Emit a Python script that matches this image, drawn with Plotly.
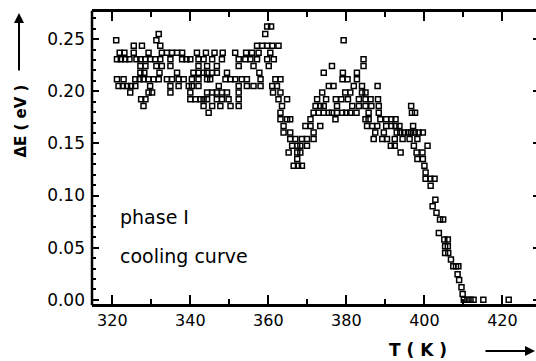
import plotly.graph_objects as go

levels = [0.262, 0.255, 0.249, 0.2436, 0.237, 0.2307, 0.2243, 0.2178, 0.2115, 0.2051,
          0.1987, 0.1923, 0.1859, 0.1795, 0.1732, 0.1668, 0.1604, 0.1541, 0.1477, 0.1413,
          0.1350, 0.1286, 0.1222, 0.1160, 0.1095, 0.0960, 0.0897, 0.0834, 0.0770, 0.0642,
          0.0578, 0.0514, 0.0450, 0.0387, 0.0323, 0.0246, 0.0190, 0.0120, 0.0055, 0.0000]

temps = [
    [359.7, 360.7],
    [331.9, 359.2],
    [321.0, 331.3, 379.3],
    [325.5, 327.6, 332.3, 357.1, 358.4, 359.7, 361.0, 362.6],
    [321.9, 323.1, 325.5, 329.3, 332.7, 334.0, 335.3, 336.6, 337.9, 341.7, 344.0, 346.2, 348.3,
     351.5, 354.3, 355.8, 357.5, 360.5],
    [321.2, 322.2, 323.3, 324.4, 326.2, 327.2, 328.5, 329.7, 331.0, 332.3, 334.9, 337.9, 339.0,
     340.0, 342.1, 343.4, 345.6, 348.1, 352.4, 354.1, 355.4, 357.1, 359.7, 361.4, 384.4],
    [327.2, 328.5, 331.3, 332.7, 334.9, 342.1, 344.3, 346.8, 352.4, 356.2, 360.1, 376.3, 384.4],
    [327.2, 328.2, 332.1, 336.6, 340.8, 342.1, 343.4, 344.3, 345.6, 346.8, 349.4, 357.7, 374.2,
     379.1, 382.7],
    [321.2, 322.9, 325.9, 327.0, 328.0, 329.3, 330.6, 331.9, 334.0, 335.3, 337.0, 338.3, 340.4,
     342.1, 344.3, 345.1, 349.0, 350.3, 351.5, 353.2, 354.5, 358.0, 361.8, 363.1, 379.0, 380.3,
     382.7],
    [321.6, 322.7, 323.8, 324.8, 325.9, 329.7, 334.9, 337.0, 339.6, 340.4, 342.1, 347.3, 352.4,
     354.5, 356.2, 358.0, 361.0, 362.2, 375.5, 376.7, 381.9, 384.0, 388.0],
    [324.6, 329.3, 330.2, 334.9, 340.0, 344.3, 345.6, 346.8, 348.1, 349.4, 352.4, 361.2, 363.1,
     373.8, 379.7, 381.0, 384.0, 384.9],
    [327.4, 328.5, 340.0, 341.3, 342.6, 343.4, 344.3, 346.8, 348.1, 349.8, 352.4, 362.6, 364.8,
     372.5, 374.8, 377.3, 378.7, 380.4, 383.2, 384.9, 386.2, 388.1],
    [328.0, 343.4, 345.6, 347.7, 350.3, 352.4, 363.5, 372.1, 373.3, 374.2, 377.6, 381.5, 383.2,
     384.9, 386.4, 388.3, 396.6],
    [344.7, 363.1, 371.6, 372.9, 374.2, 375.5, 376.3, 377.6, 378.9, 380.0, 381.0, 382.6, 385.7,
     388.3, 396.8, 397.6],
    [363.1, 364.8, 365.6, 370.8, 377.2, 384.9, 385.7, 388.7, 390.2, 391.5, 392.6],
    [363.9, 369.5, 370.8, 373.3, 385.3, 386.6, 387.9, 390.2, 391.5, 392.6, 393.6, 397.1],
    [363.9, 365.6, 371.6, 387.4, 389.6, 392.9, 393.8, 394.8, 395.8, 396.6, 397.5, 398.5, 399.6],
    [365.6, 366.9, 368.6, 369.9, 371.6, 387.0, 389.2, 390.4, 392.4, 394.4, 396.2, 398.2],
    [366.1, 367.4, 368.2, 369.9, 391.4, 392.4, 397.3, 400.8],
    [365.2, 367.4, 368.2, 393.9, 398.0, 399.5],
    [367.4, 398.2, 399.6],
    [366.5, 367.6, 368.6, 400.0],
    [400.3],
    [400.3, 401.5, 402.6],
    [401.6],
    [402.8],
    [402.1],
    [403.1],
    [404.0, 404.8],
    [403.7],
    [405.1, 406.0],
    [405.3, 406.0],
    [405.3, 406.1],
    [406.8],
    [407.4, 408.1, 408.7],
    [408.5],
    [408.9],
    [409.5],
    [409.8],
    [410.1, 411.0, 411.8, 412.6, 415.1, 421.6],
]

x_ticks = [320, 340, 360, 380, 400, 420]
y_ticks = [0.00, 0.05, 0.10, 0.15, 0.20, 0.25]
y_tick_labels = ["0.00", "0.05", "0.10", "0.15", "0.20", "0.25"]

T_K = []
dE_eV = []
for lev, row in zip(levels, temps):
    for t in row:
        T_K.append(t)
        dE_eV.append(lev)

FONT = "DejaVu Sans"
Y_RANGE = [-0.004, 0.276]

fig = go.Figure()
fig.add_trace(go.Scatter(
    x=T_K, y=dE_eV, mode="markers",
    marker=dict(symbol="square-open", size=5, color="black", line=dict(width=1.5, color="black")),
    hoverinfo="skip", showlegend=False,
))
# invisible trace so the right-hand tick axis is drawn
fig.add_trace(go.Scatter(x=[T_K[0]], y=[dE_eV[0]], yaxis="y2", mode="markers",
                         marker=dict(opacity=0), hoverinfo="skip", showlegend=False))

fig.update_layout(
    width=536, height=361,
    margin=dict(l=92, r=0, t=12, b=57),
    paper_bgcolor="white", plot_bgcolor="white",
    font=dict(family=FONT, size=16, color="black"),
    xaxis=dict(
        range=[314.8, 428.6], tickvals=x_ticks, ticks="inside", ticklen=9, tickwidth=2,
        tickcolor="black", minor=dict(dtick=10, tick0=320, ticks="inside", ticklen=5, tickwidth=1.5,
                                     tickcolor="black"),
        showline=True, linewidth=2.5, linecolor="black", mirror="ticks",
        showgrid=False, zeroline=False, tickfont=dict(family=FONT, size=16, color="black"),
    ),
    yaxis=dict(
        range=Y_RANGE, tickvals=y_ticks, ticktext=y_tick_labels, ticks="inside",
        ticklen=7, tickwidth=2, tickcolor="black",
        minor=dict(dtick=0.01, tick0=0, ticks="inside", ticklen=4, tickwidth=1.5, tickcolor="black"),
        showline=False,
        showgrid=False, zeroline=False, tickfont=dict(family=FONT, size=17, color="black"),
        ticklabelstandoff=6,
    ),
    yaxis2=dict(
        range=Y_RANGE, tickvals=y_ticks, overlaying="y", side="right", anchor="x",
        ticks="inside", ticklen=3, tickwidth=2, tickcolor="black", showticklabels=False,
        showline=False, showgrid=False, zeroline=False,
    ),
    shapes=[dict(type="line", xref="paper", yref="paper", x0=0, x1=0, y0=-0.004, y1=1.004,
                 line=dict(color="black", width=2.5))],
)

annotations = [
    dict(text="<b>ΔE ( eV )</b>", xref="paper", yref="paper", x=-0.162, y=0.625,
         textangle=-90, showarrow=False, font=dict(family=FONT, size=15, color="black"),
         xanchor="center", yanchor="middle"),
    dict(text="", xref="paper", yref="paper", x=-0.1644, y=0.9966, ax=0, ay=59,
         showarrow=True, arrowhead=2, arrowsize=1, arrowwidth=2, arrowcolor="black"),
    dict(text="<b>T ( K )</b>", xref="paper", yref="paper", x=0.734, y=-0.1575,
         showarrow=False, font=dict(family=FONT, size=17, color="black"),
         xanchor="center", yanchor="middle"),
    dict(text="", xref="paper", yref="paper", x=0.9977, y=-0.161, ax=-51, ay=0,
         showarrow=True, arrowhead=2, arrowsize=1, arrowwidth=2, arrowcolor="black"),
    dict(text="phase I", x=321.5, y=0.0798, xref="x", yref="y", showarrow=False,
         xanchor="left", yanchor="middle", font=dict(family=FONT, size=19, color="black")),
    dict(text="cooling curve", x=321.5, y=0.0425, xref="x", yref="y", showarrow=False,
         xanchor="left", yanchor="middle", font=dict(family=FONT, size=19, color="black")),
]
fig.update_layout(annotations=annotations)

fig.write_html("out.html")
